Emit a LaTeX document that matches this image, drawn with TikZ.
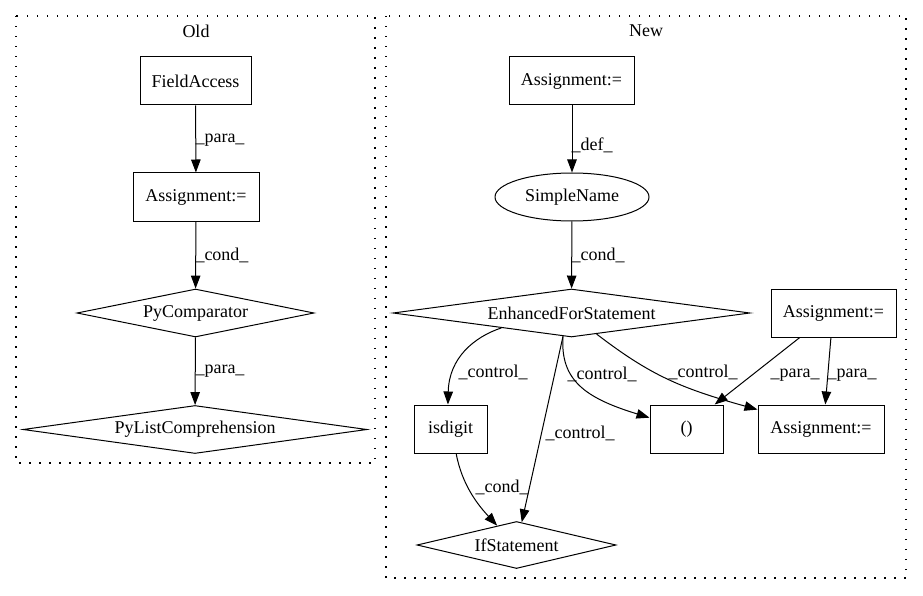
\documentclass[tikz,border=0pt]{standalone}
\usepackage{fontspec}
\setmainfont{Liberation Serif}
\usetikzlibrary{shapes.geometric,arrows.meta}
\begin{document}
\begin{tikzpicture}[x=1pt,y=-1pt,
  every node/.style={font=\fontsize{18}{21}\selectfont, inner sep=0pt},
  box/.style={draw, line width=1pt, rectangle, minimum height=48pt},
  dia/.style={draw, line width=1pt, diamond, minimum height=48pt},
  ell/.style={draw, line width=1pt, ellipse, minimum height=48pt},
  cluster/.style={draw, line width=1.1pt, dash pattern=on 1.5pt off 8.5pt},
  conn/.style={draw, line width=1pt, -{Triangle[length=13pt,width=9.5pt]}},
  lbl/.style={}]
\useasboundingbox (0,0) rectangle (923,596);
% clusters
\draw[cluster] (16,16) rectangle (375,463);
\draw[cluster] (386,16) rectangle (906,578);
\node (tOld) at (196,31) {Old};
\node (tNew) at (646,31) {New};
% Old nodes
\node[box, minimum width=111pt] (fa) at (195.5,81) {FieldAccess};
\node[box, minimum width=126pt] (oa) at (196,197) {Assignment:=};
\node[dia, aspect=4.94, minimum width=237pt] (pc) at (195.5,313) {PyComparator};
\node[dia, aspect=7.17, minimum width=344pt] (plc) at (195,429.5) {PyListComprehension};
% New nodes
\node[box, minimum width=125pt] (na) at (571.5,81) {Assignment:=};
\node[ell, minimum width=154pt] (sn) at (572,197) {SimpleName};
\node[dia, aspect=7.44, minimum width=357pt] (efs) at (571.5,313) {EnhancedForStatement};
\node[box, minimum width=125pt] (ar) at (833.5,313) {Assignment:=};
\node[box, minimum width=73pt] (isd) at (450.5,429) {isdigit};
\node[box, minimum width=73pt] (par) at (686.5,429) {()};
\node[box, minimum width=126pt] (ab) at (821,429) {Assignment:=};
\node[dia, aspect=4.2, minimum width=199pt, minimum height=47pt] (ifs) at (516.5,545) {IfStatement};
% Old edges
\draw[conn] (fa) -- (oa);
\draw[conn] (oa) -- (pc);
\draw[conn] (pc) -- (plc);
\node[lbl] (l1) at (220,140) {\_para\_};
\node[lbl] (l2) at (222,255) {\_cond\_};
\node[lbl] (l3) at (220,371) {\_para\_};
% New edges
\draw[conn] (na.south -| sn.north) -- (sn.north);
\draw[conn] (sn) -- (efs);
\draw[conn] (efs.192.7) .. controls (474,337) and (449,358) .. (isd.96);
\draw[conn] (efs.250) -- (ifs.77);
\draw[conn] (efs.250) .. controls (560,380) and (585,398) .. (par.163);
\draw[conn] (efs.320) .. controls (650,375) and (680,388) .. (ab.163);
\draw[conn] (ar.216.4) -- (par.41);
\draw[conn] (ar.264) -- (ab.80.5);
\draw[conn] (isd.283) .. controls (462,485) and (478,505) .. (ifs.135);
\node[lbl] (l4) at (592,145) {\_def\_};
\node[lbl] (l5) at (598,255) {\_cond\_};
\node[lbl] (l6) at (493,372) {\_control\_};
\node[lbl] (l7) at (580,433) {\_control\_};
\node[lbl] (l8) at (602,374) {\_control\_};
\node[lbl] (l9) at (703,372) {\_control\_};
\node[lbl] (l10) at (795,375) {\_para\_};
\node[lbl] (l11) at (852,375) {\_para\_};
\node[lbl] (l12) at (502,487) {\_cond\_};
\end{tikzpicture}
\end{document}
